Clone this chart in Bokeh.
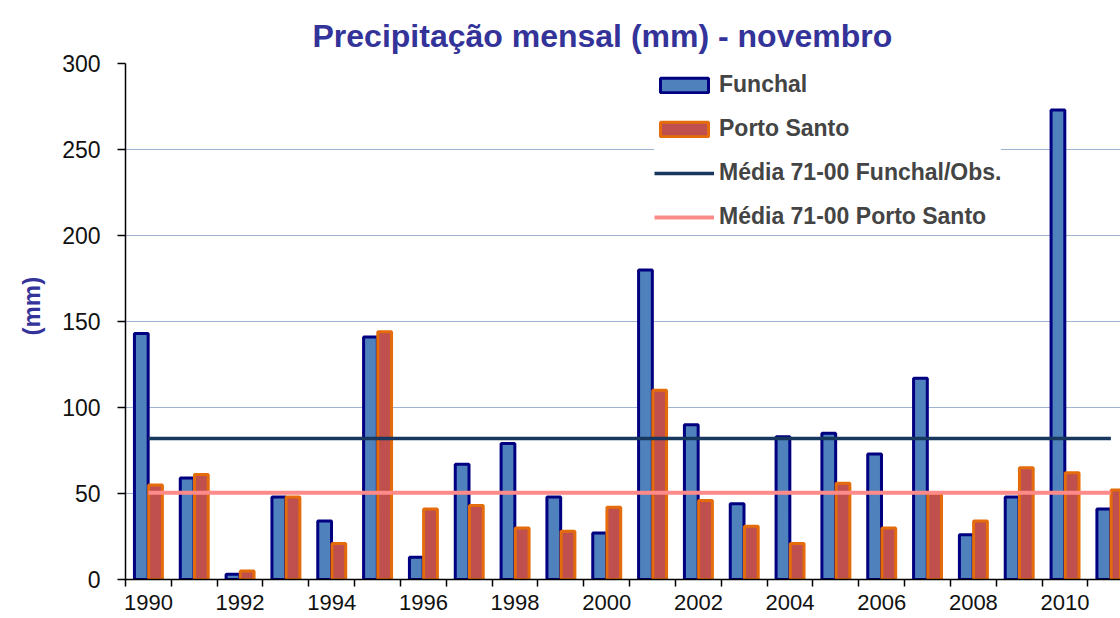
from bokeh.plotting import figure
from bokeh.models import ColumnDataSource, Range1d, FixedTicker, Legend, LegendItem, Title
from bokeh.transform import dodge
from bokeh.embed import file_html
from bokeh.resources import INLINE

years = list(range(1990, 2012))
funchal = [143, 59, 3, 48, 34, 141, 13, 67, 79, 48, 27, 180, 90, 44, 83, 85, 73, 117, 26, 48, 273, 41]
porto_santo = [55, 61, 5, 48, 21, 144, 41, 43, 30, 28, 42, 110, 46, 31, 21, 56, 30, 50, 34, 65, 62, 52]
mean_funchal = 82
mean_porto_santo = 50.4
x_tick_labels = list(range(1990, 2011, 2))
y_ticks = [0, 50, 100, 150, 200, 250, 300]

src = ColumnDataSource(dict(year=years, funchal=funchal, porto_santo=porto_santo))
mean_src = ColumnDataSource(dict(x=[years[0], years[-1]],
                                 mf=[mean_funchal, mean_funchal],
                                 mp=[mean_porto_santo, mean_porto_santo]))

p = figure(width=1120, height=618, output_backend="svg", toolbar_location=None,
           x_range=Range1d(1989.5, 2011.21), y_range=Range1d(0, 300),
           min_border_left=125, min_border_right=0, min_border_top=63, min_border_bottom=39)
p.background_fill_color = "white"
p.border_fill_color = "white"
p.outline_line_color = None

title = Title(text="Precipitação mensal (mm) - novembro", align="left", offset=187,
              text_font="Liberation Sans", text_font_size="32px", text_font_style="bold",
              text_color="#333399", standoff=20)
p.add_layout(title, "above")

ylab = Title(text="(mm)", align="left", offset=244,
             text_font="Liberation Sans", text_font_size="24px", text_font_style="bold",
             text_color="#333399", standoff=29)
p.add_layout(ylab, "left")

b1 = p.vbar(x=dodge("year", -0.155, range=p.x_range), top="funchal", width=0.30, source=src,
            fill_color="#4F81BD", line_color="#000080", line_width=3)
b2 = p.vbar(x=dodge("year", 0.155, range=p.x_range), top="porto_santo", width=0.30, source=src,
            fill_color="#C0504D", line_color="#E46C0A", line_width=3)
l1 = p.line(x="x", y="mf", source=mean_src, line_color="#17375E", line_width=3.5)
l2 = p.line(x="x", y="mp", source=mean_src, line_color="#FF8A8A", line_width=4)

# axes
p.xaxis.ticker = FixedTicker(ticks=x_tick_labels, minor_ticks=[y + 0.5 for y in range(1989, 2012)])
p.xaxis.major_tick_line_color = None
p.xaxis.major_tick_out = 0
p.xaxis.minor_tick_line_color = "black"
p.xaxis.minor_tick_out = 7
p.xaxis.minor_tick_in = 0
p.xaxis.minor_tick_line_width = 1.5
p.xaxis.axis_line_color = "black"
p.xaxis.axis_line_width = 1.5
p.xaxis.major_label_standoff = 8
p.xaxis.major_label_text_font = "Liberation Sans"
p.xaxis.major_label_text_font_size = "22px"
p.xaxis.major_label_text_color = "#111111"

p.yaxis.ticker = FixedTicker(ticks=y_ticks, minor_ticks=[])
p.yaxis.major_tick_out = 8
p.yaxis.major_tick_in = 0
p.yaxis.major_tick_line_width = 1.5
p.yaxis.axis_line_width = 1.5
p.yaxis.major_label_standoff = 17
p.yaxis.major_label_text_font = "Liberation Sans"
p.yaxis.major_label_text_font_size = "23px"
p.yaxis.major_label_text_color = "#111111"

p.xgrid.grid_line_color = None
p.ygrid.grid_line_color = "#9FB3D3"
p.ygrid.grid_line_width = 1.2

legend = Legend(items=[LegendItem(label="Funchal", renderers=[b1]),
                       LegendItem(label="Porto Santo", renderers=[b2]),
                       LegendItem(label="Média 71-00 Funchal/Obs.", renderers=[l1]),
                       LegendItem(label="Média 71-00 Porto Santo", renderers=[l2])],
                location=(529, 349), padding=10, spacing=17, glyph_width=60, glyph_height=18,
                label_height=24, label_standoff=5, label_text_font="Liberation Sans",
                label_text_font_size="23px", label_text_font_style="bold",
                background_fill_color="white", background_fill_alpha=1.0,
                border_line_color=None, margin=0)
p.add_layout(legend, "center")

open("out.html", "w").write(file_html(p, INLINE))
